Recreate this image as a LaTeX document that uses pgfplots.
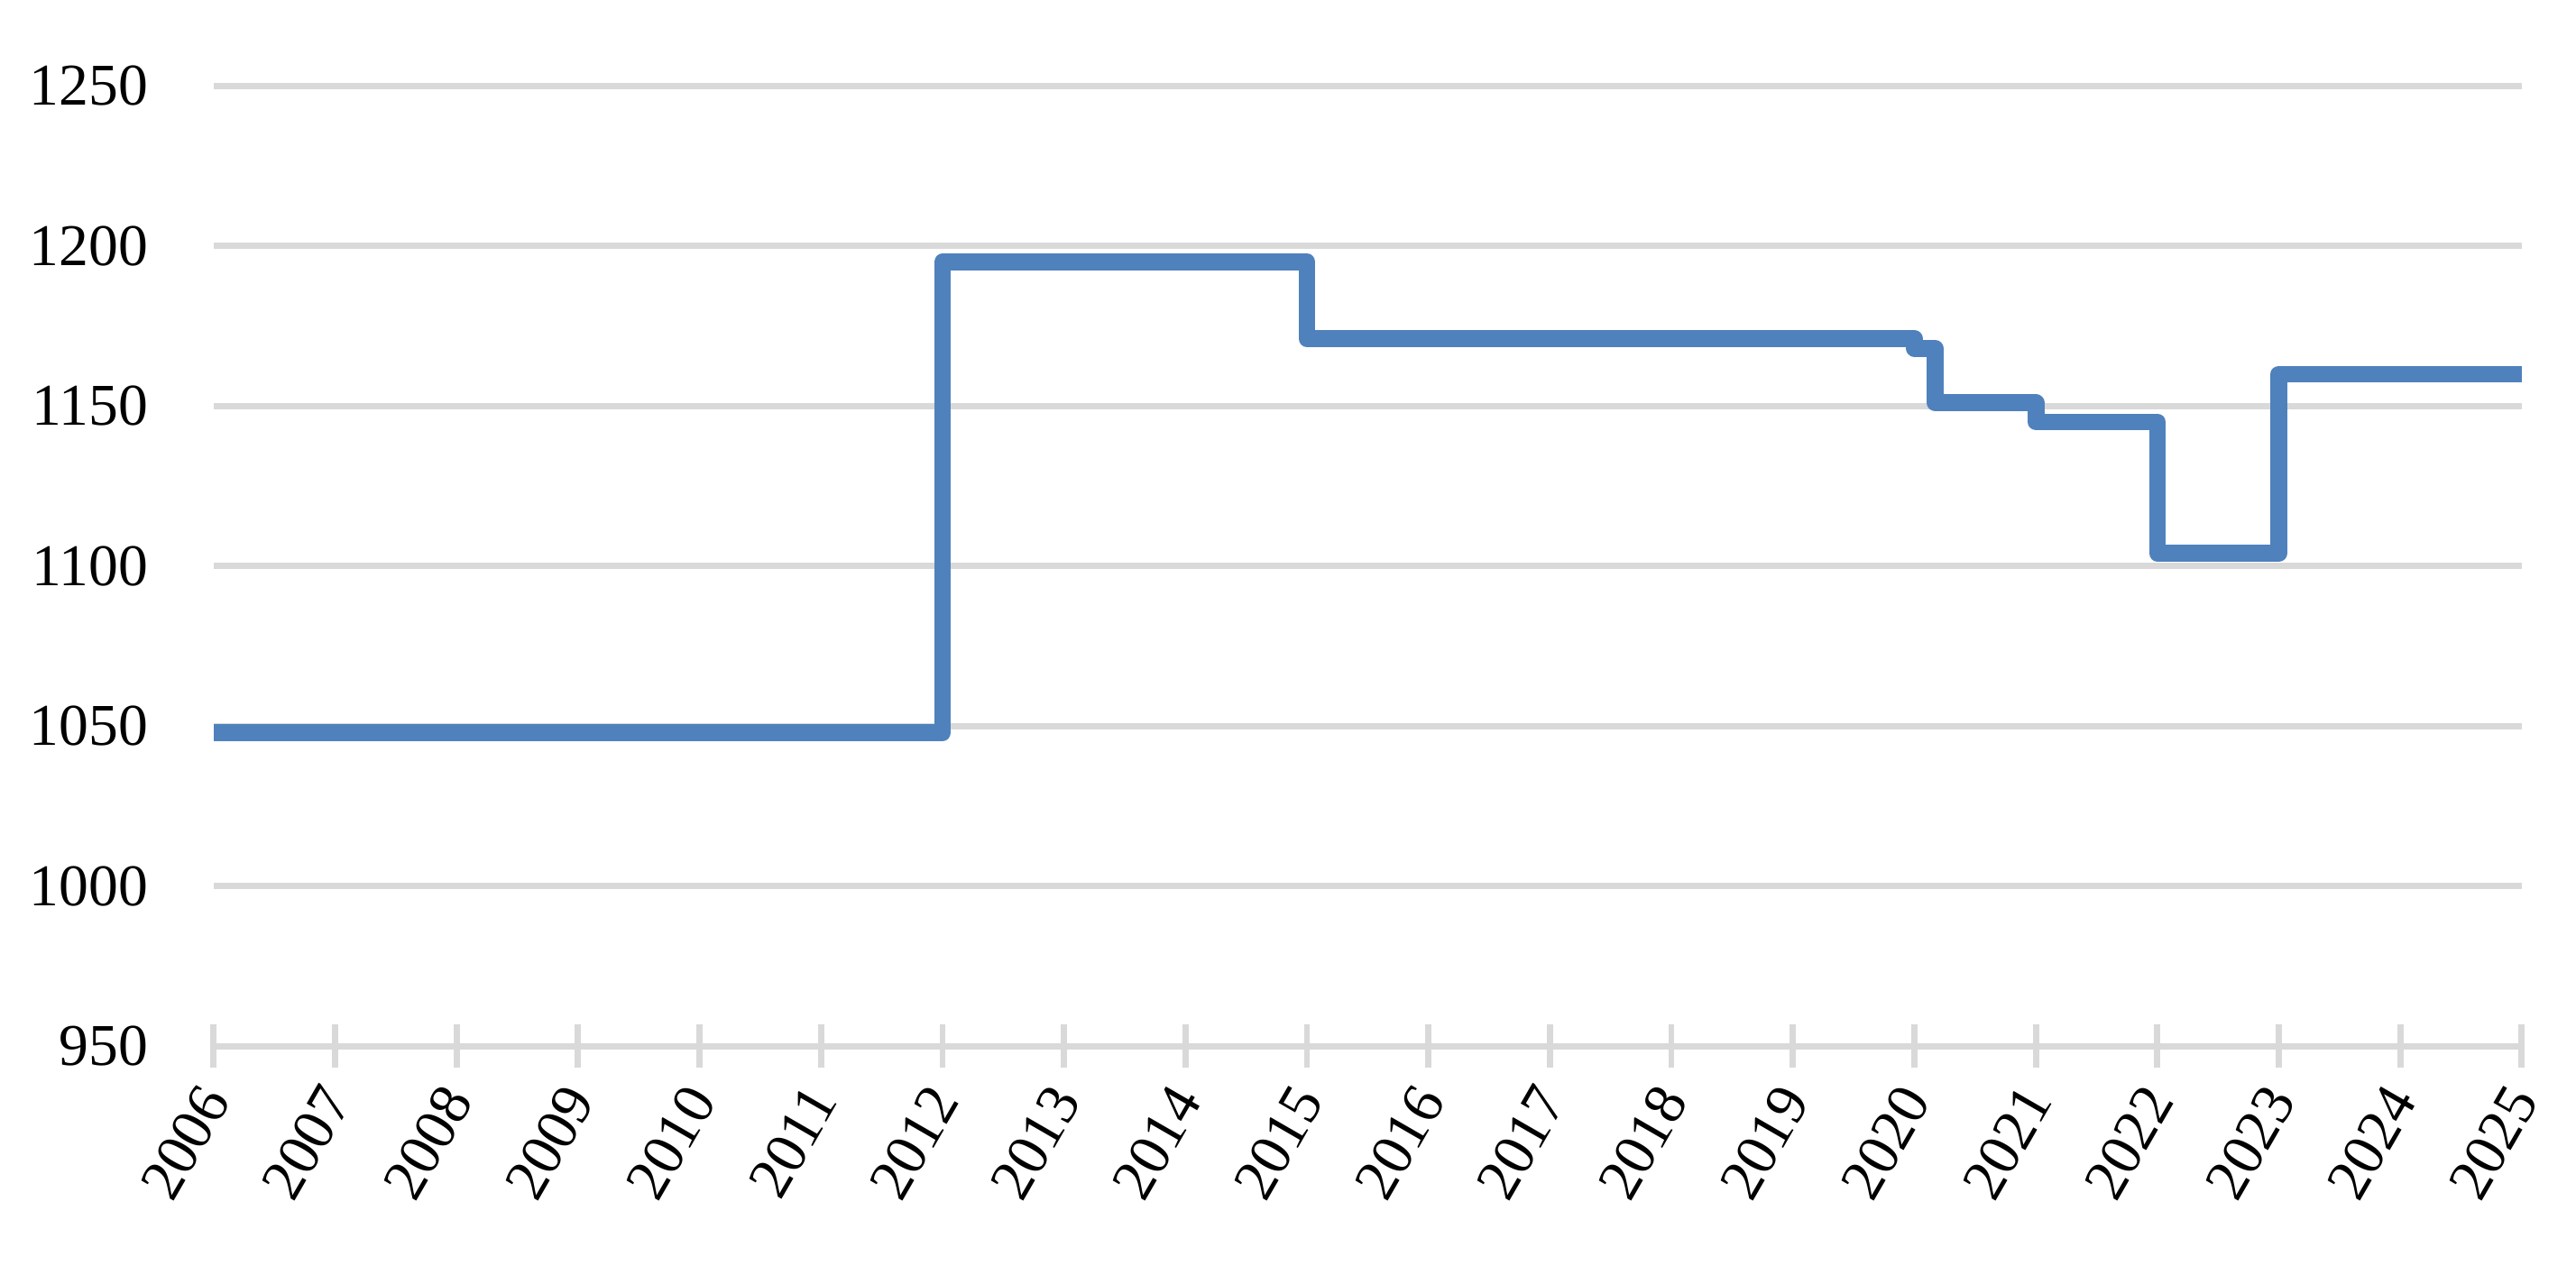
\documentclass[border=0pt]{standalone}
\usepackage{fontspec}
\setmainfont{Liberation Serif}
\usepackage{pgfplots}
\pgfplotsset{compat=1.18}
\definecolor{lineblue}{HTML}{4F81BD}
\definecolor{gridgray}{HTML}{D9D9D9}
\begin{document}
\begin{tikzpicture}
\begin{axis}[
  scale only axis,
  width=448.4pt, height=186.6pt,
  xmin=2006, xmax=2025, ymin=950, ymax=1250,
  xtick={2006,2007,...,2025},
  ytick={950,1000,...,1250},
  /pgf/number format/1000 sep={},
  /pgf/number format/assume math mode=true,
  axis x line*=bottom,
  axis y line*=left,
  y axis line style={draw=none},
  x axis line style={draw=gridgray, line width=1.25pt},
  ytick style={draw=none},
  xtick style={draw=gridgray, line width=1.2pt},
  tick align=center,
  major tick length=8.4pt,
  ymajorgrids,
  grid style={draw=gridgray, line width=1.17pt},
  tick label style={font=\fontsize{11.5}{13}\selectfont, text=black},
  yticklabel style={xshift=-5pt},
  xticklabel style={rotate=60, anchor=east, inner sep=0pt, yshift=-2.5pt, xshift=-3.67pt},
  clip=false,
]
\addplot[const plot, lineblue, line width=3.25pt, line join=round, line cap=butt] coordinates {
  (2006,1048)
  (2012,1195)
  (2015,1171)
  (2020,1168)
  (2020.17,1151)
  (2021,1145)
  (2022,1104)
  (2023,1160)
  (2025,1160)
};
\end{axis}
\path (current axis.south west) ++(-41.5pt,-44.3pt) rectangle ([shift={(10.5pt,16.7pt)}]current axis.north east);
\end{tikzpicture}
\end{document}
